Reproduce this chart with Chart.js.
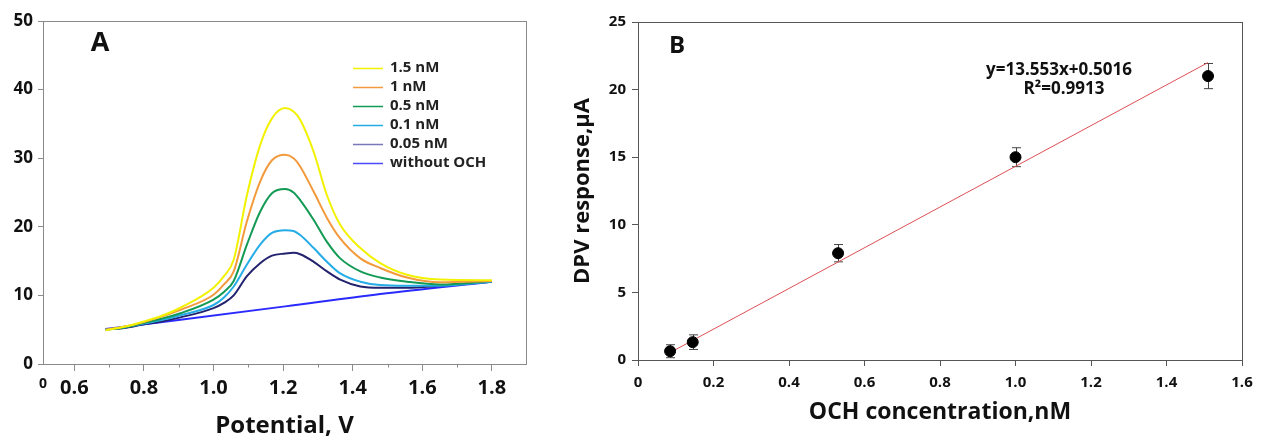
<!DOCTYPE html>
<html>
<head>
<meta charset="utf-8">
<script src="https://cdn.jsdelivr.net/npm/chart.js@4.4.1/dist/chart.umd.min.js"></script>
<style>
    html, body { margin: 0; padding: 0; background: #fff; }
    #wrap { position: relative; width: 1261px; height: 441px; }
    #chartA { position: absolute; left: 0; top: 0; }
    #chartB { position: absolute; left: 560px; top: 0; }
</style>
</head>
<body>
<div id="wrap">
    <canvas id="chartA" width="560" height="441"></canvas>
    <canvas id="chartB" width="701" height="441"></canvas>
</div>
<script>
// ---- panel A : DPV curves ----
const potential = [0.69, 0.75, 0.8, 0.85, 0.905, 1.0, 1.03, 1.058, 1.096, 1.134, 1.168, 1.206, 1.23, 1.249, 1.288, 1.326, 1.364, 1.422, 1.479, 1.556, 1.651, 1.8];
const curve15 = [4.9, 5.5, 6.2, 7.0, 8.2, 11.1, 12.8, 15.2, 24.6, 31.9, 35.8, 37.3, 36.8, 35.6, 30.9, 24.6, 20.3, 16.9, 14.7, 13.0, 12.3, 12.2];
const curve1 = [5.0, 5.5, 6.1, 6.9, 7.9, 10.1, 11.6, 13.5, 20.8, 26.6, 29.7, 30.5, 30.0, 28.8, 25.1, 21.3, 18.3, 15.4, 14.0, 12.6, 11.9, 12.1];
const curve05 = [5.0, 5.4, 6.0, 6.6, 7.4, 9.4, 10.5, 12.1, 17.4, 22.2, 24.9, 25.5, 25.0, 23.9, 21.0, 17.8, 15.4, 13.5, 12.6, 12.0, 11.6, 12.1];
const curve01 = [5.0, 5.4, 5.9, 6.4, 7.1, 8.6, 9.7, 11.3, 14.5, 17.4, 19.1, 19.5, 19.4, 18.8, 16.9, 14.9, 13.2, 12.0, 11.5, 11.4, 11.4, 12.0];
const curve005 = [5.0, 5.3, 5.8, 6.2, 6.8, 8.15, 8.9, 10.0, 12.8, 14.7, 15.8, 16.1, 16.2, 16.0, 14.9, 13.5, 12.3, 11.3, 11.1, 11.1, 11.4, 12.0];
const baselineV = [0.69, 0.905, 1.206, 1.479, 1.8];
const baselineI = [5.1, 6.45, 8.4, 10.2, 12.0];
const curveLabels = ['1.5 nM', '1 nM', '0.5 nM', '0.1 nM', '0.05 nM', 'without OCH'];
const curveColors = ['#f2f200', '#f39a3c', '#139a55', '#25ace6', '#22226e', '#2a2aff'];
const legendColors = ['#f2f200', '#f39a3c', '#139a55', '#25ace6', '#7777bb', '#4a4aff'];
const potentialTicks = [0.51, 0.6, 0.7, 0.8, 0.9, 1.0, 1.1, 1.2, 1.3, 1.4, 1.5, 1.6, 1.7, 1.8];
const potentialMinor = [0.7, 0.9, 1.1, 1.3, 1.5, 1.7];

// ---- panel B : calibration ----
const concentration = [0.085, 0.145, 0.53, 1.0, 1.51];
const response = [0.65, 1.32, 7.9, 15.0, 21.0];
const responseErr = [0.48, 0.54, 0.64, 0.7, 0.93];
const fitX = [0.085, 1.51];
const fitY = [0.55, 22.0];
const equationText = ['y=13.553x+0.5016', 'R\u00b2=0.9913'];

const FONT = "'Open Sans', 'DejaVu Sans', sans-serif";
const INK = '#111';

function pairs(xs, ys) {
    return xs.map((x, i) => ({ x: x, y: ys[i] }));
}

// box around the plot area
const frameBox = {
    id: 'frameBox',
    beforeDatasetsDraw(chart, args, opts) {
        const a = chart.chartArea, ctx = chart.ctx;
        ctx.save();
        ctx.strokeStyle = opts.color;
        ctx.lineWidth = 1;
        ctx.strokeRect(Math.round(a.left) + 0.5, Math.round(a.top) + 0.5, Math.round(a.right - a.left), Math.round(a.bottom - a.top));
        ctx.restore();
    }
};

// short minor ticks under the x axis
const minorTicks = {
    id: 'minorTicks',
    afterDraw(chart, args, opts) {
        if (!opts.values) return;
        const sx = chart.scales.x, ctx = chart.ctx, y0 = Math.round(chart.chartArea.bottom) + 0.5;
        ctx.save();
        ctx.strokeStyle = opts.color;
        ctx.lineWidth = 1;
        opts.values.forEach(v => {
            const px = Math.round(sx.getPixelForValue(v)) + 0.5;
            ctx.beginPath();
            ctx.moveTo(px, y0);
            ctx.lineTo(px, y0 + 3);
            ctx.stroke();
        });
        ctx.restore();
    }
};

// "A" / "B" and free text notes
const panelText = {
    id: 'panelText',
    afterDraw(chart, args, opts) {
        const a = chart.chartArea, ctx = chart.ctx;
        ctx.save();
        ctx.fillStyle = INK;
        ctx.textAlign = 'center';
        ctx.textBaseline = 'middle';
        (opts.items || []).forEach(t => {
            ctx.font = 'bold ' + t.size + 'px ' + FONT;
            ctx.fillText(t.text, a.left + t.dx, a.top + t.dy);
        });
        ctx.restore();
    }
};

// legend inside panel A
const innerLegend = {
    id: 'innerLegend',
    afterDraw(chart, args, opts) {
        const a = chart.chartArea, ctx = chart.ctx;
        ctx.save();
        ctx.font = 'bold 15px ' + FONT;
        ctx.textBaseline = 'middle';
        ctx.fillStyle = '#222';
        chart.data.datasets.forEach((ds, i) => {
            const y = a.top + opts.dy + i * opts.row;
            const x = a.left + opts.dx;
            ctx.strokeStyle = opts.colors[i];
            ctx.lineWidth = 1.5;
            ctx.beginPath();
            ctx.moveTo(x, y + 0.5);
            ctx.lineTo(x + 30, y + 0.5);
            ctx.stroke();
            ctx.fillText(ds.label, x + 37, y);
        });
        ctx.restore();
    }
};

// error bars for panel B
const errorBars = {
    id: 'errorBars',
    beforeDatasetsDraw(chart, args, opts) {
        const sx = chart.scales.x, sy = chart.scales.y, ctx = chart.ctx;
        ctx.save();
        ctx.strokeStyle = '#444';
        ctx.lineWidth = 1;
        concentration.forEach((c, i) => {
            const px = Math.round(sx.getPixelForValue(c)) + 0.5;
            const top = sy.getPixelForValue(response[i] + responseErr[i]);
            const bot = sy.getPixelForValue(response[i] - responseErr[i]);
            ctx.beginPath();
            ctx.moveTo(px, top); ctx.lineTo(px, bot);
            ctx.moveTo(px - 4.5, top); ctx.lineTo(px + 4.5, top);
            ctx.moveTo(px - 4.5, bot); ctx.lineTo(px + 4.5, bot);
            ctx.stroke();
        });
        ctx.restore();
    }
};

const datasetsA = [curve15, curve1, curve05, curve01, curve005].map((ys, i) => ({
    label: curveLabels[i],
    data: pairs(potential, ys),
    borderColor: curveColors[i],
    borderWidth: 2,
    pointRadius: 0,
    cubicInterpolationMode: 'monotone',
    fill: false
}));
datasetsA.push({
    label: curveLabels[5],
    data: pairs(baselineV, baselineI),
    borderColor: curveColors[5],
    borderWidth: 2,
    pointRadius: 0,
    cubicInterpolationMode: 'monotone',
    fill: false
});

new Chart(document.getElementById('chartA'), {
    type: 'line',
    data: { datasets: datasetsA },
    options: {
        responsive: false,
        animation: false,
        layout: { padding: { top: 21, right: 34, left: 0, bottom: 0 } },
        plugins: {
            legend: { display: false },
            tooltip: { enabled: false },
            frameBox: { color: '#8a8a8a' },
            minorTicks: { values: potentialMinor, color: '#8a8a8a' },
            innerLegend: { dx: 310, dy: 47, row: 19, colors: legendColors },
            panelText: { items: [{ text: 'A', size: 27, dx: 57, dy: 22 }] }
        },
        scales: {
            x: {
                type: 'linear',
                min: 0.51,
                max: 1.898,
                afterBuildTicks: s => { s.ticks = potentialTicks.map(v => ({ value: v })); },
                afterFit: s => { s.height = 77; },
                ticks: {
                    autoSkip: false,
                    maxRotation: 0,
                    padding: 5,
                    color: INK,
                    font: ctx => ({ family: FONT, weight: 'bold', size: ctx.index === 0 ? 14 : 20 }),
                    callback: (v, i) => {
                        if (i === 0) return '0';
                        return potentialMinor.some(m => Math.abs(m - v) < 1e-6) ? '' : v.toFixed(1);
                    }
                },
                grid: {
                    drawOnChartArea: false,
                    tickLength: 7,
                    tickColor: ctx => (ctx.index === 0 || potentialMinor.some(m => Math.abs(m - ctx.tick.value) < 1e-6)) ? 'rgba(0,0,0,0)' : '#8a8a8a'
                },
                border: { display: false },
                title: {
                    display: true,
                    text: 'Potential, V',
                    color: INK,
                    font: { family: FONT, weight: 'bold', size: 24 },
                    padding: { top: 0, bottom: 0 }
                }
            },
            y: {
                min: 0,
                max: 50,
                afterFit: s => { s.width = 43; },
                ticks: {
                    stepSize: 10,
                    padding: 5,
                    color: INK,
                    font: { family: FONT, weight: 'bold', size: 17 }
                },
                grid: { drawOnChartArea: false, tickLength: 5, tickColor: '#8a8a8a' },
                border: { display: false }
            }
        }
    },
    plugins: [frameBox, minorTicks, innerLegend, panelText]
});

new Chart(document.getElementById('chartB'), {
    type: 'scatter',
    data: {
        datasets: [
            {
                label: 'OCH',
                data: pairs(concentration, response),
                backgroundColor: '#000',
                borderColor: '#000',
                pointRadius: 5.5,
                pointHoverRadius: 5.5
            },
            {
                type: 'line',
                label: 'fit',
                data: pairs(fitX, fitY),
                borderColor: '#dd4f55',
                borderWidth: 1,
                pointRadius: 0,
                fill: false
            }
        ]
    },
    options: {
        responsive: false,
        animation: false,
        layout: { padding: { top: 22, right: 19, left: 0, bottom: 0 } },
        plugins: {
            legend: { display: false },
            tooltip: { enabled: false },
            frameBox: { color: '#555' },
            panelText: {
                items: [
                    { text: 'B', size: 24, dx: 39, dy: 24 },
                    { text: equationText[0], size: 17, dx: 421, dy: 48 },
                    { text: equationText[1], size: 17, dx: 426, dy: 67 }
                ]
            }
        },
        scales: {
            x: {
                type: 'linear',
                min: 0,
                max: 1.6,
                afterFit: s => { s.height = 81; },
                ticks: {
                    stepSize: 0.2,
                    padding: 8,
                    color: INK,
                    maxRotation: 0,
                    font: { family: FONT, weight: 'bold', size: 15 }
                },
                grid: { drawOnChartArea: false, tickLength: 6, tickColor: '#555' },
                border: { display: false },
                title: {
                    display: true,
                    text: 'OCH concentration,nM',
                    color: INK,
                    font: { family: FONT, weight: 'bold', size: 23 },
                    padding: { top: 0, bottom: 15 }
                }
            },
            y: {
                min: 0,
                max: 25,
                afterFit: s => { s.width = 78; },
                ticks: {
                    stepSize: 5,
                    padding: 6,
                    color: INK,
                    font: { family: FONT, weight: 'bold', size: 15 }
                },
                grid: { drawOnChartArea: false, tickLength: 6, tickColor: '#555' },
                border: { display: false },
                title: {
                    display: true,
                    text: 'DPV response,\u03bcA',
                    color: INK,
                    font: { family: FONT, weight: 'bold', size: 22 },
                    padding: { top: 10, bottom: 0 }
                }
            }
        }
    },
    plugins: [frameBox, errorBars, panelText]
});
</script>
</body>
</html>
